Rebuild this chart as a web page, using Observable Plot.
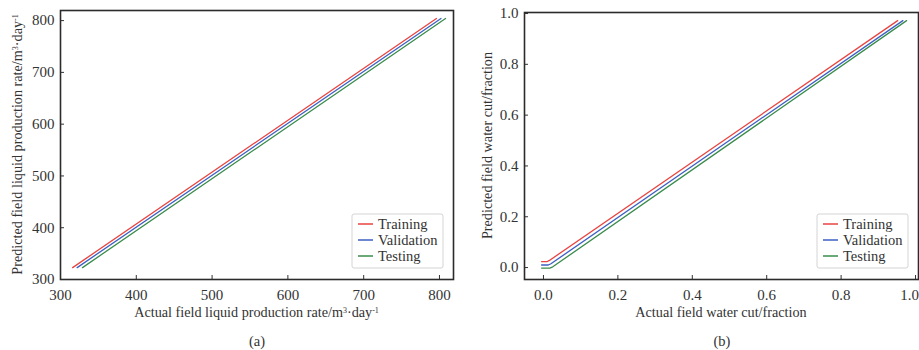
<!DOCTYPE html>
<html>
<head>
<meta charset="utf-8">
<script src="https://cdn.jsdelivr.net/npm/d3@7"></script>
<script src="https://cdn.jsdelivr.net/npm/@observablehq/plot@0.6"></script>
<style>
  html, body { margin: 0; padding: 0; background: #fff; }
  #root { position: relative; width: 919px; height: 350px; font-family: "Liberation Serif", "Times New Roman", serif; color: #333; }
  .panel { position: absolute; top: 0; }
  .panel svg { overflow: visible; }
  .cap { position: absolute; font-size: 14.5px; text-align: center; width: 40px; }
</style>
</head>
<body>
<div id="root"></div>
<script>
// ---- data ----
const seriesNames = ["Training", "Validation", "Testing"];
const seriesColors = ["#e84440", "#3d5fc4", "#3a8c4c"];

// Panel (a): liquid production rate (actual vs predicted)
const aTrainX = [316, 796];
const aTrainY = [323, 804];
const aValX = [322, 802];
const aValY = [323, 804];
const aTestX = [329, 808];
const aTestY = [323, 804];
const aTicks = [300, 400, 500, 600, 700, 800];

// Panel (b): water cut (actual vs predicted)
const bTrainX = [-0.005, 0.009, 0.016, 0.952];
const bTrainY = [0.023, 0.023, 0.028, 0.972];
const bValX = [-0.005, 0.013, 0.020, 0.966];
const bValY = [0.010, 0.010, 0.015, 0.972];
const bTestX = [-0.005, 0.017, 0.025, 0.976];
const bTestY = [-0.002, -0.002, 0.003, 0.972];
const bTicks = [0.0, 0.2, 0.4, 0.6, 0.8, 1.0];

function toRows(xs, ys, name) { return xs.map((x, i) => ({x, y: ys[i], s: name})); }

const aData = [
  ...toRows(aTrainX, aTrainY, "Training"),
  ...toRows(aValX, aValY, "Validation"),
  ...toRows(aTestX, aTestY, "Testing")
];
const bData = [
  ...toRows(bTrainX, bTrainY, "Training"),
  ...toRows(bValX, bValY, "Validation"),
  ...toRows(bTestX, bTestY, "Testing")
];

const H = 325;
const root = document.getElementById("root");

function makePanel(opts) {
  const {data, left, width, margins, xDomain, yDomain, ticks, fmt, xLabel, yLabel, yLabelX, legendX, caption, captionX, lastDx} = opts;
  const [mt, mr, mb, ml] = margins;
  const xr = xDomain[1] - xDomain[0], yr = yDomain[1] - yDomain[0];
  const innerH = H - mt - mb, innerW = width - ml - mr;
  const tickLenY = 4 * yr / innerH, tickLenX = 4 * xr / innerW;
  const xMain = lastDx ? ticks.slice(0, -1) : ticks;
  const xLast = lastDx ? ticks.slice(-1) : [];
  const chart = Plot.plot({
    width, height: H,
    marginTop: mt, marginRight: mr, marginBottom: mb, marginLeft: ml,
    style: {fontFamily: "'Liberation Serif', 'Times New Roman', serif", fontSize: "15px", color: "#333", background: "transparent", overflow: "visible"},
    x: {domain: xDomain, ticks, tickFormat: fmt, label: null},
    y: {domain: yDomain, ticks, tickFormat: fmt, label: null},
    color: {domain: seriesNames, range: seriesColors},
    marks: [
      Plot.line(data, {x: "x", y: "y", z: "s", stroke: "s", strokeWidth: 1.3, curve: "linear"}),
      Plot.ruleX(ticks, {x: d => d, y1: yDomain[0], y2: yDomain[0] + tickLenY, stroke: "#333", strokeWidth: 1}),
      Plot.ruleY(ticks, {y: d => d, x1: xDomain[0], x2: xDomain[0] + tickLenX, stroke: "#333", strokeWidth: 1}),
      Plot.axisX({ticks: xMain, tickFormat: fmt, tickSize: 0, tickPadding: 10, label: null, fill: "#333", fontSize: 15}),
      ...(xLast.length ? [Plot.axisX({ticks: xLast, tickFormat: fmt, tickSize: 0, tickPadding: 10, label: null, fill: "#333", fontSize: 15, dx: lastDx})] : []),
      Plot.axisY({ticks, tickFormat: fmt, tickSize: 0, tickPadding: 6, label: null, fill: "#333", fontSize: 15}),
      Plot.frame({stroke: "#2b2b2b", strokeWidth: 1.6})
    ]
  });
  const wrap = document.createElement("div");
  wrap.className = "panel";
  wrap.style.left = left + "px";
  wrap.appendChild(chart);
  root.appendChild(wrap);

  const svg = d3.select(chart);
  const font = "'Liberation Serif', 'Times New Roman', serif";
  // x label
  const xl = svg.append("text")
    .attr("x", ml + innerW / 2).attr("y", H - 8)
    .attr("text-anchor", "middle").attr("font-family", font).attr("font-size", 14.2).attr("fill", "#333");
  xLabel.forEach(p => {
    const t = xl.append("tspan").text(p.t);
    if (p.sup) t.attr("font-size", 8).attr("baseline-shift", "super");
  });
  // y label
  const yl = svg.append("text")
    .attr("transform", `translate(${yLabelX},${mt + innerH / 2}) rotate(-90)`)
    .attr("text-anchor", "middle").attr("font-family", font).attr("font-size", 14.2).attr("fill", "#333");
  yLabel.forEach(p => {
    const t = yl.append("tspan").text(p.t);
    if (p.sup) t.attr("font-size", 8).attr("baseline-shift", "super");
  });
  // legend
  const lg = svg.append("g").attr("transform", `translate(${legendX},214)`);
  lg.append("rect").attr("width", 91).attr("height", 54).attr("rx", 2)
    .attr("fill", "#fff").attr("stroke", "#d4d4d4").attr("stroke-width", 1);
  seriesNames.forEach((n, i) => {
    const yy = 10 + i * 16;
    lg.append("line").attr("x1", 6).attr("x2", 21).attr("y1", yy).attr("y2", yy)
      .attr("stroke", seriesColors[i]).attr("stroke-width", 1.5);
    lg.append("text").attr("x", 26).attr("y", yy + 4.5).text(n)
      .attr("text-anchor", "start")
      .attr("font-family", font).attr("font-size", 14.5).attr("fill", "#333");
  });
  // caption
  const cap = document.createElement("div");
  cap.className = "cap";
  cap.textContent = caption;
  cap.style.left = (captionX - 20) + "px";
  cap.style.top = "333px";
  root.appendChild(cap);
}

makePanel({
  data: aData, left: 0, width: 460, margins: [10, 7, 46, 60],
  xDomain: [300, 818.5], yDomain: [300, 819.5], ticks: aTicks, fmt: d3.format("d"),
  xLabel: [{t: "Actual field liquid production rate/m"}, {t: "3", sup: true}, {t: "·day"}, {t: "-1", sup: true}],
  yLabel: [{t: "Predicted field liquid production rate/m"}, {t: "3", sup: true}, {t: "·day"}, {t: "-1", sup: true}],
  yLabelX: 22, legendX: 352, caption: "(a)", captionX: 257
});

makePanel({
  data: bData, left: 460, width: 459, margins: [12, 1, 46, 64],
  xDomain: [-0.051, 1.008], yDomain: [-0.047, 1.004], ticks: bTicks, fmt: d3.format(".1f"),
  xLabel: [{t: "Actual field water cut/fraction"}],
  yLabel: [{t: "Predicted field water cut/fraction"}],
  yLabelX: 32, legendX: 357, caption: "(b)", captionX: 722, lastDx: -6
});
</script>
</body>
</html>
